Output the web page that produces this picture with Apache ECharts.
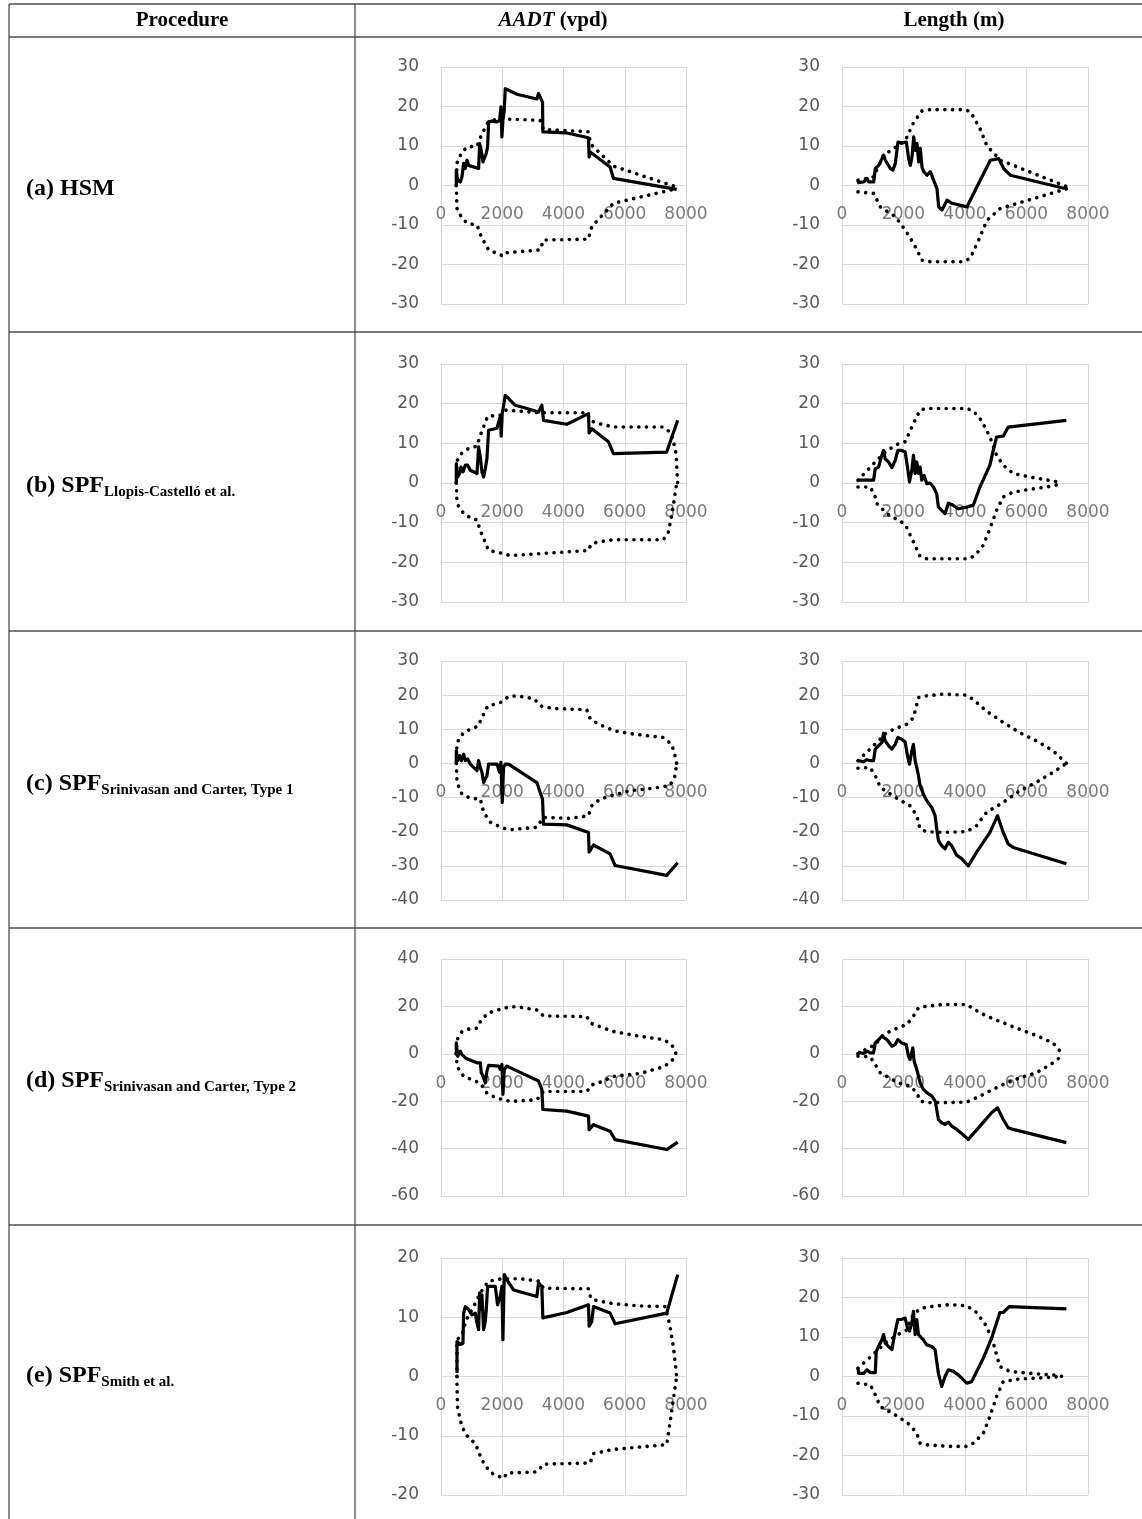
<!DOCTYPE html>
<html>
<head>
<meta charset="utf-8">
<script src="https://cdn.jsdelivr.net/npm/echarts@6/dist/echarts.min.js"></script>
<style>
  html, body { margin: 0; padding: 0; background: #fff; }
  #main { width: 1142px; height: 1519px; }
</style>
</head>
<body>
<div id="main"></div>
<script>
// values: [x, cumulative residual]
// (a) HSM
var aadtHsmCure = [[500,0],[500,3.9],[543,1.3],[630,0.9],[685,2.2],[739,5.6],[794,4.3],[848,6.4],[902,5.1],[957,5.4],[1228,4.3],[1261,10.6],[1315,8.9],[1370,6.0],[1413,5.6],[1478,8.1],[1522,9.8],[1554,16.1],[1663,16.3],[1826,16.1],[1913,16.5],[1957,19.9],[1989,12.3],[2022,16.5],[2065,19.0],[2098,24.5],[2207,24.1],[2478,23.1],[3130,21.9],[3185,23.3],[3315,21.1],[3326,13.6],[4109,13.3],[4815,12.1],[4837,7.2],[4870,8.5],[5522,4.7],[5631,1.8],[7696,-1.0]];
var aadtHsmUpper = [[500,0],[522,5.7],[685,8.5],[870,9.8],[1174,9.9],[1315,12.7],[1522,15.8],[1772,16.7],[2098,16.8],[3239,16.5],[3348,14.2],[4815,13.6],[4892,10.4],[5033,9.4],[5631,4.9],[7696,-0.4]];
var aadtHsmLower = [[500,0],[522,-5.8],[685,-8.3],[870,-9.6],[1174,-10.0],[1315,-13.0],[1554,-16.3],[2043,-17.9],[2150,-17.0],[3239,-16.3],[3348,-13.8],[4815,-13.6],[4924,-10.4],[5631,-4.5],[7696,-0.8]];
var lenHsmCure = [[520,1.3],[542,0.7],[705,0.9],[813,1.8],[867,0.9],[1030,0.9],[1084,4.3],[1192,5.1],[1301,6.8],[1355,7.7],[1409,6.4],[1572,4.3],[1659,3.9],[1734,5.6],[1821,11.0],[1951,10.8],[2092,11.0],[2168,6.8],[2222,5.1],[2276,7.2],[2331,12.3],[2385,8.9],[2439,10.6],[2493,6.0],[2547,9.4],[2602,4.7],[2656,3.5],[2764,2.6],[2873,3.5],[2981,1.3],[3089,-0.8],[3144,-5.4],[3252,-6.2],[3415,-3.7],[3577,-4.5],[4065,-5.4],[4390,-0.3],[4824,6.4],[5095,6.8],[5257,4.3],[5474,2.6],[7317,-0.9]];
var lenHsmUpper = [[520,1.3],[1030,2.2],[1355,7.7],[1789,9.9],[2060,11.4],[2331,16.0],[2602,18.9],[2873,19.2],[3957,19.2],[4173,18.8],[4498,14.2],[4715,10.0],[5149,6.4],[7317,-0.3]];
var lenHsmLower = [[520,-1.6],[1030,-2.0],[1247,-5.4],[1734,-7.9],[2060,-11.3],[2331,-14.7],[2602,-18.9],[2873,-19.3],[3957,-19.3],[4173,-18.4],[4444,-13.8],[4715,-8.8],[5149,-5.8],[7317,-0.8]];

// (b) SPF Llopis-Castelló et al.
var aadtLlopisCure = [[500,0],[500,4.9],[543,1.5],[609,2.4],[652,4.0],[717,2.8],[794,4.5],[870,4.5],[957,3.2],[1174,2.4],[1228,9.1],[1283,6.6],[1337,2.8],[1391,1.5],[1446,3.6],[1500,6.1],[1554,13.3],[1826,13.8],[1935,16.7],[1967,11.8],[2000,17.7],[2043,19.4],[2098,22.1],[2207,21.3],[2424,19.6],[2804,18.8],[3185,17.9],[3293,19.6],[3348,15.8],[4109,14.8],[4815,17.5],[4837,12.6],[4924,13.7],[4979,13.3],[5468,10.4],[5631,7.4],[7370,7.8],[7729,15.8]];
var aadtLlopisUpper = [[500,0],[522,5.6],[685,7.6],[902,8.7],[1174,9.3],[1283,12.0],[1522,16.8],[1935,17.1],[2130,18.4],[3239,17.7],[4761,17.7],[4892,15.8],[5033,15.2],[5631,14.1],[7261,14.1],[7533,12.5],[7674,7.4],[7729,0]];
var aadtLlopisLower = [[500,0],[522,-5.2],[739,-7.7],[1011,-9.0],[1174,-9.3],[1283,-12.0],[1554,-17.0],[2043,-17.8],[2261,-18.3],[3239,-17.8],[4815,-17.0],[4892,-15.5],[5087,-14.9],[5631,-14.3],[7261,-14.3],[7424,-12.4],[7565,-6.9],[7674,-1.0],[7729,0]];
var lenLlopisCure = [[519,0.7],[703,0.7],[811,0.8],[919,0.7],[1027,0.7],[1081,3.6],[1189,4.0],[1297,7.0],[1351,8.2],[1405,6.1],[1513,5.3],[1622,3.9],[1730,5.7],[1816,8.2],[1946,8.2],[2054,7.8],[2130,4.0],[2195,0.3],[2270,3.2],[2324,7.0],[2378,2.4],[2432,5.3],[2486,2.4],[2540,4.0],[2594,0.7],[2670,1.9],[2757,-0.2],[2865,0],[2973,-1.0],[3081,-2.7],[3135,-6.1],[3243,-6.9],[3351,-7.7],[3459,-5.1],[3567,-5.4],[3783,-6.5],[4054,-6.1],[4270,-5.6],[4486,-1.0],[4811,4.5],[4919,8.2],[5027,11.6],[5243,11.8],[5405,14.1],[7297,15.8]];
var lenLlopisUpper = [[519,0.7],[1081,5.3],[1459,8.2],[1816,9.8],[2054,10.4],[2324,15.0],[2540,18.4],[2757,18.8],[4054,18.8],[4270,18.2],[4540,15.7],[4811,11.6],[5027,7.0],[5243,4.5],[5567,2.4],[6108,1.5],[6648,0.8],[7189,0]];
var lenLlopisLower = [[519,-1.0],[919,-1.0],[1081,-3.5],[1135,-5.2],[1459,-7.7],[1816,-9.3],[2054,-10.4],[2324,-14.9],[2540,-18.5],[2757,-19.1],[4108,-19.1],[4324,-18.3],[4594,-15.7],[4811,-11.5],[5027,-6.9],[5243,-3.5],[5567,-2.3],[6108,-1.6],[6648,-1.0],[7189,-0.2]];

// (c) SPF Srinivasan and Carter, Type 1
var aadtType1Cure = [[500,0],[500,3.7],[543,0.8],[609,2.3],[663,0.8],[739,2.7],[794,0.8],[870,1.3],[957,-0.2],[1174,-2.1],[1228,0.8],[1283,-1.2],[1337,-2.6],[1391,-5.6],[1446,-6.1],[1500,-3.6],[1554,-0.2],[1826,-0.2],[1913,-2.6],[1957,0.3],[2000,-11.4],[2043,-1.2],[2098,-0.2],[2207,-0.2],[3130,-5.6],[3239,-8.5],[3315,-10.5],[3348,-17.8],[4109,-18.0],[4815,-20.2],[4837,-26.0],[4979,-23.9],[5522,-26.5],[5685,-29.9],[7370,-32.8],[7729,-29.1]];
var aadtType1Upper = [[500,0],[522,6.1],[739,9.1],[957,10.0],[1228,11.0],[1283,12.4],[1522,16.8],[1935,17.8],[2207,19.6],[2478,19.8],[3022,19.0],[3293,16.7],[3674,16.1],[4761,15.7],[4870,13.2],[5087,11.8],[5631,9.6],[6283,8.6],[7261,7.6],[7533,5.6],[7674,1.3],[7696,0]];
var aadtType1Lower = [[500,0],[522,-5.6],[685,-9.0],[957,-10.2],[1283,-10.4],[1391,-14.3],[1609,-17.2],[2043,-19.0],[2261,-19.4],[3130,-18.7],[3348,-15.8],[4218,-16.1],[4815,-15.3],[4924,-12.4],[5196,-10.4],[5631,-9.3],[6174,-8.0],[6717,-7.5],[7478,-6.5],[7641,-3.6],[7696,0]];
var lenType1Cure = [[519,0.8],[703,0.5],[811,1.1],[919,0.8],[1027,0.8],[1081,4.2],[1189,5.2],[1297,6.1],[1351,8.9],[1405,6.6],[1513,5.2],[1622,4.2],[1730,5.6],[1816,7.6],[1946,7.1],[2054,6.3],[2130,2.2],[2195,-0.2],[2270,3.7],[2324,5.6],[2378,0.8],[2432,-1.2],[2486,-3.6],[2540,-6.5],[2648,-9.0],[2757,-10.9],[2919,-12.9],[3027,-15.3],[3081,-19.2],[3135,-22.6],[3243,-24.1],[3351,-25.0],[3459,-23.1],[3567,-24.1],[3730,-26.9],[3892,-27.9],[4108,-30.0],[4378,-26.0],[4811,-20.2],[5059,-15.3],[5243,-20.2],[5405,-23.6],[5567,-24.6],[7297,-29.4]];
var lenType1Upper = [[519,0.8],[1081,5.7],[1459,9.1],[1816,10.5],[2108,11.5],[2324,13.4],[2486,19.3],[2757,19.8],[3297,20.3],[4054,20.0],[4270,18.7],[4703,15.3],[5243,12.0],[5784,9.0],[6324,6.6],[6865,3.7],[7297,0]];
var lenType1Lower = [[519,-1.4],[919,-1.2],[1081,-3.6],[1243,-7.0],[1816,-10.4],[2216,-12.4],[2432,-15.3],[2540,-19.2],[2757,-20.0],[3297,-20.2],[4054,-20.0],[4378,-18.2],[4703,-14.3],[5243,-11.4],[5784,-8.0],[6324,-5.5],[6865,-2.6],[7297,0]];

// (d) SPF Srinivasan and Carter, Type 2
var aadtType2Cure = [[500,0],[500,4.6],[543,-1.0],[630,1.1],[685,-0.3],[739,0.4],[794,-1.7],[902,-2.4],[1174,-3.8],[1283,-3.8],[1315,-8.0],[1370,-9.4],[1446,-12.2],[1500,-7.3],[1554,-4.9],[1880,-5.2],[1935,-6.6],[1989,-4.5],[2022,-17.1],[2065,-6.6],[2152,-5.2],[3185,-11.5],[3293,-15.0],[3326,-23.5],[4109,-24.2],[4815,-26.3],[4837,-32.0],[4979,-29.9],[5522,-32.7],[5685,-36.2],[7370,-40.4],[7729,-37.3]];
var aadtType2Upper = [[500,0],[522,5.9],[685,9.4],[902,10.4],[1174,10.8],[1283,13.6],[1522,17.1],[1935,18.8],[2207,19.7],[2478,19.9],[3130,18.5],[3348,16.0],[4761,15.7],[4892,12.9],[5033,12.2],[5631,9.4],[6500,7.4],[7261,6.0],[7533,3.9],[7674,0]];
var aadtType2Lower = [[500,0],[522,-5.3],[739,-9.5],[1011,-10.9],[1283,-12.4],[1500,-16.6],[1826,-18.7],[2261,-20.1],[3130,-19.4],[3348,-15.9],[4761,-15.9],[4924,-13.1],[5087,-12.6],[5631,-9.5],[6500,-8.3],[7261,-5.5],[7533,-3.1],[7674,0]];
var lenType2Cure = [[519,0.7],[703,0.1],[811,1.1],[919,0.4],[1027,0.4],[1081,4.6],[1189,6.0],[1297,7.4],[1351,8.1],[1459,6.0],[1622,3.2],[1730,3.9],[1816,6.0],[1946,4.6],[2086,3.9],[2162,-1.0],[2216,-2.4],[2303,2.5],[2346,-3.1],[2432,-6.6],[2486,-9.4],[2540,-12.2],[2648,-15.0],[2757,-16.4],[2919,-17.8],[3027,-19.9],[3081,-23.5],[3135,-27.7],[3243,-29.1],[3351,-29.8],[3459,-28.8],[3567,-30.5],[3730,-31.9],[3892,-33.6],[4108,-36.1],[4486,-30.5],[4865,-24.9],[5059,-22.8],[5243,-27.7],[5405,-31.2],[5567,-31.9],[7297,-37.5]];
var lenType2Upper = [[519,0.1],[1081,3.9],[1351,8.1],[1816,11.0],[2108,12.4],[2324,15.9],[2486,19.4],[2757,20.1],[3297,20.8],[4054,20.8],[4270,19.0],[4703,15.9],[5243,13.1],[5784,10.3],[6324,7.7],[6865,4.6],[7135,0.4]];
var lenType2Lower = [[519,-1.0],[919,-1.3],[1081,-4.5],[1243,-8.0],[1816,-12.2],[2216,-13.6],[2432,-16.4],[2540,-19.9],[2757,-20.6],[3297,-20.6],[4054,-20.4],[4378,-18.5],[4703,-16.4],[5243,-12.9],[5784,-10.1],[6324,-8.0],[6865,-3.8],[7135,-1.0]];

// (e) SPF Smith et al.
var aadtSmithCure = [[522,0.6],[522,5.9],[576,5.6],[630,5.4],[717,5.6],[739,10.7],[794,11.8],[848,12.1],[902,11.3],[1011,10.4],[1120,10.7],[1174,9.0],[1228,7.9],[1261,14.1],[1304,11.3],[1337,13.8],[1391,7.9],[1446,9.3],[1478,11.3],[1522,15.2],[1609,15.2],[1772,15.2],[1848,12.1],[1935,13.5],[1989,15.2],[2022,6.2],[2065,17.2],[2152,16.3],[2370,14.6],[3130,13.5],[3185,15.8],[3293,15.2],[3326,9.9],[4109,10.8],[4815,12.1],[4837,8.5],[4924,9.3],[4979,11.8],[5522,10.7],[5685,8.9],[7370,10.7],[7729,17.2]];
var aadtSmithUpper = [[522,0],[522,6.2],[685,7.0],[826,9.6],[1065,11.8],[1283,14.1],[1554,16.1],[1989,16.5],[2587,16.5],[3185,16.1],[3348,14.9],[4815,14.8],[4892,13.2],[5087,12.8],[5631,12.3],[6500,11.9],[7315,11.8],[7457,9.0],[7587,5.1],[7696,0]];
var aadtSmithLower = [[522,0],[522,-1.7],[543,-5.4],[685,-8.5],[902,-10.4],[1120,-11.3],[1337,-14.1],[1609,-16.2],[2043,-17.2],[2152,-16.3],[3130,-16.1],[3348,-14.8],[4870,-14.6],[4979,-13.0],[5631,-12.3],[6500,-11.9],[7370,-11.5],[7457,-8.5],[7587,-3.9],[7696,0]];
var lenSmithCure = [[519,2.1],[541,0.8],[703,0.8],[811,1.7],[919,1.0],[1081,1.0],[1114,6.3],[1189,7.6],[1297,9.3],[1351,10.6],[1405,8.5],[1513,7.6],[1622,6.8],[1697,10.1],[1816,14.4],[1946,14.5],[2054,14.8],[2130,12.3],[2195,11.5],[2270,13.5],[2324,16.5],[2378,10.6],[2432,14.4],[2486,10.6],[2540,11.0],[2648,9.3],[2757,8.0],[2919,7.6],[3027,6.8],[3135,0.8],[3243,-2.5],[3351,0],[3459,1.7],[3621,1.3],[3784,0.4],[4054,-1.7],[4216,-1.3],[4595,4.6],[4865,9.7],[5135,16.2],[5243,16.2],[5438,17.7],[7297,17.1]];
var lenSmithUpper = [[519,2.1],[1114,6.3],[1405,8.5],[1816,10.6],[2108,11.8],[2324,15.9],[2594,17.3],[2865,17.7],[3513,18.2],[4054,17.9],[4378,16.2],[4703,12.7],[4919,8.5],[5135,2.5],[5459,1.3],[6108,0.8],[6865,0.4],[7189,0]];
var lenSmithLower = [[519,-1.7],[919,-2.1],[1081,-4.6],[1243,-7.6],[1816,-10.1],[2216,-12.3],[2432,-14.4],[2540,-16.9],[2757,-17.3],[3513,-17.7],[4054,-17.7],[4270,-16.9],[4595,-14.4],[4811,-10.1],[5027,-5.1],[5243,-1.3],[5676,-0.7],[6324,-0.4],[7189,0]];

// x tick labels, written on the zero line as in the original
var xTickLabels = [0, 2000, 4000, 6000, 8000];
// y ranges per panel type
var yRanges = [
  { min: -30, max: 30, step: 10 },
  { min: -30, max: 30, step: 10 },
  { min: -40, max: 30, step: 10 },
  { min: -60, max: 40, step: 20 },
  { min: -20, max: 20, step: 10 },
  { min: -30, max: 30, step: 10 }
];

var rowLabels = [
  { main: '(a) HSM', sub: '' },
  { main: '(b) SPF', sub: 'Llopis-Castelló et al.' },
  { main: '(c) SPF', sub: 'Srinivasan and Carter, Type 1' },
  { main: '(d) SPF', sub: 'Srinivasan and Carter, Type 2' },
  { main: '(e) SPF', sub: 'Smith et al.' }
];

var panels = [
  { row: 0, col: 0, y: yRanges[0], cure: aadtHsmCure, upper: aadtHsmUpper, lower: aadtHsmLower },
  { row: 0, col: 1, y: yRanges[0], cure: lenHsmCure, upper: lenHsmUpper, lower: lenHsmLower },
  { row: 1, col: 0, y: yRanges[1], cure: aadtLlopisCure, upper: aadtLlopisUpper, lower: aadtLlopisLower },
  { row: 1, col: 1, y: yRanges[1], cure: lenLlopisCure, upper: lenLlopisUpper, lower: lenLlopisLower },
  { row: 2, col: 0, y: yRanges[2], cure: aadtType1Cure, upper: aadtType1Upper, lower: aadtType1Lower },
  { row: 2, col: 1, y: yRanges[2], cure: lenType1Cure, upper: lenType1Upper, lower: lenType1Lower },
  { row: 3, col: 0, y: yRanges[3], cure: aadtType2Cure, upper: aadtType2Upper, lower: aadtType2Lower },
  { row: 3, col: 1, y: yRanges[3], cure: lenType2Cure, upper: lenType2Upper, lower: lenType2Lower },
  { row: 4, col: 0, y: yRanges[4], cure: aadtSmithCure, upper: aadtSmithUpper, lower: aadtSmithLower },
  { row: 4, col: 1, y: yRanges[5], cure: lenSmithCure, upper: lenSmithUpper, lower: lenSmithLower }
];

// layout of the table
var colLeft = [441, 842];
var colWidth = [245, 246];
var rowTop = [67, 364, 661, 959, 1258];
var rowHeight = [237, 238, 239, 237, 237];
var rowLines = [4, 37, 332, 631, 928, 1225];
var rowBounds = [37, 332, 631, 928, 1225, 1519];

var chart = echarts.init(document.getElementById("main"));

var grids = [], xAxes = [], yAxes = [], series = [];
var labelStyle = { color: "#595959", fontFamily: "DejaVu Sans", fontSize: 17 };
var gridLine = { color: "#d9d9d9", width: 1 };

panels.forEach(function(p, i) {
  grids.push({
    left: colLeft[p.col],
    top: rowTop[p.row],
    width: colWidth[p.col],
    height: rowHeight[p.row]
  });
  xAxes.push({
    gridIndex: i,
    type: "value",
    min: xTickLabels[0],
    max: xTickLabels[xTickLabels.length - 1],
    interval: xTickLabels[1] - xTickLabels[0],
    axisLine: { show: false },
    axisTick: { show: false },
    axisLabel: { show: false },
    splitLine: { show: true, lineStyle: gridLine }
  });
  yAxes.push({
    gridIndex: i,
    type: "value",
    min: p.y.min,
    max: p.y.max,
    interval: p.y.step,
    axisLine: { show: false, onZero: false },
    axisTick: { show: false },
    axisLabel: Object.assign({ margin: 22 }, labelStyle),
    splitLine: { show: true, lineStyle: gridLine }
  });
  // x tick labels hanging under the zero line
  series.push({
    type: "scatter",
    xAxisIndex: i,
    yAxisIndex: i,
    data: xTickLabels.map(function(v) { return [v, 0]; }),
    symbolSize: 0,
    silent: true,
    z: 1,
    label: Object.assign({
      show: true,
      position: "bottom",
      distance: 21,
      formatter: function(q) { return String(q.value[0]); }
    }, labelStyle)
  });
  [p.upper, p.lower].forEach(function(d) {
    series.push({
      type: "line",
      xAxisIndex: i,
      yAxisIndex: i,
      data: d,
      symbol: "none",
      silent: true,
      z: 3,
      lineStyle: { color: "#000", width: 3.6, type: [0.1, 7.6], cap: "round" }
    });
  });
  series.push({
    type: "line",
    xAxisIndex: i,
    yAxisIndex: i,
    data: p.cure,
    symbol: "none",
    silent: true,
    z: 4,
    lineStyle: { color: "#000", width: 3.2, join: "round" }
  });
});

// table lines and texts
var graphics = [];
rowLines.forEach(function(y) {
  graphics.push({
    type: "line",
    shape: { x1: 9, y1: y, x2: 1142, y2: y },
    style: { stroke: "#7a7a7a", lineWidth: 2.2 }
  });
});
[9, 355].forEach(function(x) {
  graphics.push({
    type: "line",
    shape: { x1: x, y1: 4, x2: x, y2: 1519 },
    style: { stroke: "#404040", lineWidth: 1.2 }
  });
});

var serif = '"Liberation Serif", "Times New Roman", serif';
graphics.push({
  type: "text", x: 182, y: 21,
  style: { text: "Procedure", font: "bold 21px " + serif, fill: "#000", align: "center", verticalAlign: "middle" }
});
graphics.push({
  type: "text", x: 553, y: 21,
  style: {
    text: "{i|AADT}{n| (vpd)}", align: "center", verticalAlign: "middle", fill: "#000",
    rich: {
      i: { fontFamily: serif, fontSize: 21, fontWeight: "bold", fontStyle: "italic" },
      n: { fontFamily: serif, fontSize: 21, fontWeight: "bold" }
    }
  }
});
graphics.push({
  type: "text", x: 954, y: 21,
  style: { text: "Length (m)", font: "bold 21px " + serif, fill: "#000", align: "center", verticalAlign: "middle" }
});

rowLabels.forEach(function(r, k) {
  var mid = (rowBounds[k] + rowBounds[k + 1]) / 2 + 4;
  var txt = "{m|" + r.main + "}" + (r.sub ? "{s|" + r.sub + "}" : "");
  graphics.push({
    type: "text", x: 26, y: mid,
    style: {
      text: txt, align: "left", verticalAlign: "middle", fill: "#000",
      rich: {
        m: { fontFamily: serif, fontSize: 24, fontWeight: "bold", lineHeight: 28 },
        s: { fontFamily: serif, fontSize: 15, fontWeight: "bold", lineHeight: 14, verticalAlign: "bottom" }
      }
    }
  });
});

var option = {
  backgroundColor: "#fff",
  animation: false,
  grid: grids,
  xAxis: xAxes,
  yAxis: yAxes,
  series: series,
  graphic: graphics
};

chart.setOption(option);
</script>
</body>
</html>
